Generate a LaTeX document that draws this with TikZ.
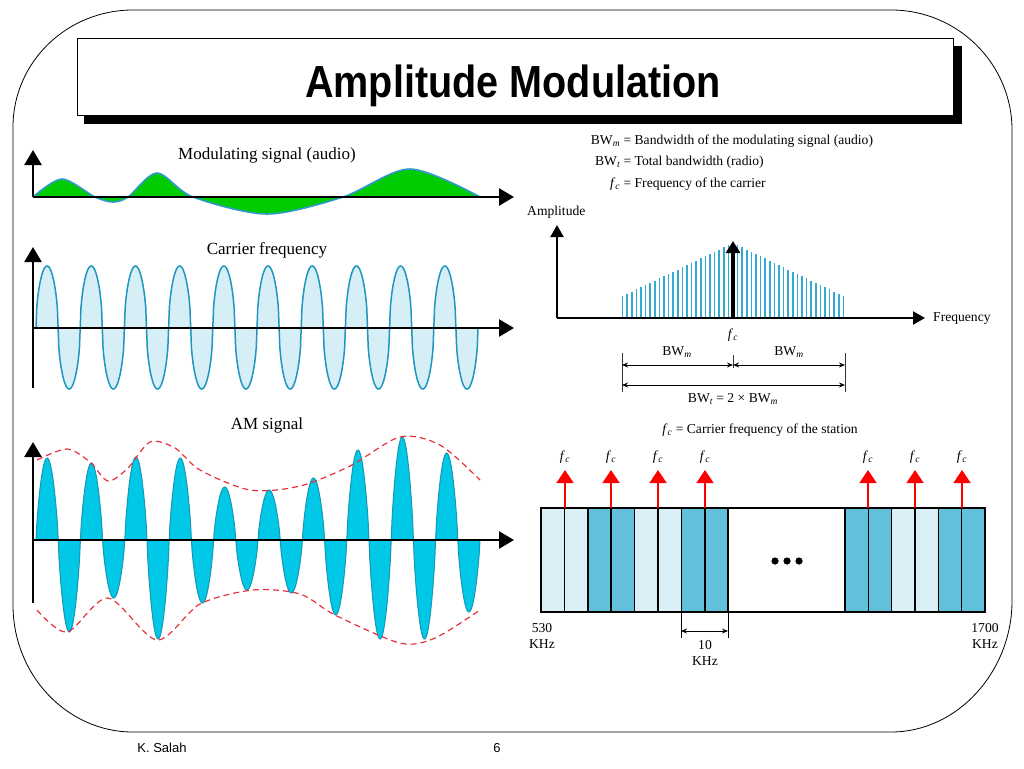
\documentclass[tikz,border=0pt]{standalone}
\usepackage{fontspec}
\setmainfont{Liberation Serif}
\newfontfamily\headfont{Liberation Sans}
\usetikzlibrary{arrows.meta,positioning}

\definecolor{audiogreen}{RGB}{0,204,0}
\definecolor{audioline}{RGB}{51,153,204}
\definecolor{carrierfill}{RGB}{214,238,246}
\definecolor{carrierline}{RGB}{30,150,190}
\definecolor{amfill}{RGB}{0,200,230}
\definecolor{amline}{RGB}{25,150,180}
\definecolor{envred}{RGB}{230,50,60}
\definecolor{specblue}{RGB}{50,170,210}
\definecolor{lightcell}{RGB}{218,239,245}
\definecolor{darkcell}{RGB}{98,192,218}

\newcommand{\lowidx}[1]{\textsubscript{\itshape #1}}
\newcommand{\fc}{\textit{f}\lowidx{c}}

\begin{document}
\begin{tikzpicture}[x=1pt,y=-1pt,
  axis/.style={line width=2.5pt,-{Triangle[length=15pt,width=17pt]}},
  saxis/.style={line width=2pt,-{Triangle[length=12pt,width=13pt]}},
  caption/.style={font=\fontsize{17}{20}\selectfont,inner sep=0pt},
  small/.style={font=\fontsize{13.6}{16.5}\selectfont,inner sep=0pt},
  carrier/.style={fill=carrierfill,draw=carrierline,line width=1.5pt},
  amlobe/.style={fill=amfill,draw=amline,line width=1pt},
  envelope/.style={envred,line width=1.2pt,dash pattern=on 6pt off 4pt},
  specline/.style={specblue,line width=1.5pt},
  dim/.style={line width=0.9pt,{Stealth[length=6pt,width=5pt]}-{Stealth[length=6pt,width=5pt]}},
  cell/.style={draw=black,line width=1.5pt},
  stationup/.style={red,line width=1.5pt,-{Triangle[length=13pt,width=17pt]}}]
\useasboundingbox (0,0) rectangle (1024,768);

% frame and title
\draw[line width=0.8pt] (13,127) .. controls (13,62) and (67,10) .. (133,10) -- (891,10)
  .. controls (958,10) and (1012,64) .. (1012,130) -- (1012,601)
  .. controls (1012,671) and (958,732) .. (891,732) -- (133,732)
  .. controls (67,732) and (13,675) .. (13,605) -- cycle;
\fill (84,46) rectangle (962,124);
\draw[fill=white,line width=0.6pt] (77,38) rectangle (953,115);
\node[font=\headfont\bfseries\fontsize{45}{50}\selectfont,anchor=base,inner sep=0pt] (title) at (513,97) {\scalebox{0.88}[1]{Amplitude Modulation}};
\node[font=\headfont\fontsize{13}{15}\selectfont] (author) at (162,748) {K. Salah};
\node[font=\headfont\fontsize{13}{15}\selectfont] (page) at (497,748) {6};

% modulating signal
\coordinate (m0) at (33,197);
\coordinate (mx) at (514,197);
\coordinate (my) at (33,150);
\fill[audiogreen] plot[smooth] coordinates {(33,197) (62,179) (95,197) (113,202) (128,197) (157,173) (193,197) (267,214) (343,197) (410,169) (480,197)} -- cycle;
\draw[audioline,line width=1.6pt] plot[smooth] coordinates {(33,197) (62,179) (95,197) (113,202) (128,197) (157,173) (193,197) (267,214) (343,197) (410,169) (480,197)};
\draw[axis] (m0) -- (mx);
\draw[axis] (m0) -- (my);
\node[caption] (modlabel) at (267,155) {Modulating signal (audio)};

% carrier
\foreach \k in {0,...,9} {
  \pgfmathsetmacro\cx{36+44.2*\k}
  \filldraw[carrier] plot[domain=0:180,samples=31] ({\cx+\x/180*22.1},{328-62*sqrt(abs(sin(\x)))});
  \filldraw[carrier] plot[domain=0:180,samples=31] ({\cx+22.1+\x/180*22.1},{328+61*sqrt(abs(sin(\x)))});
}
\coordinate (c0) at (33,328);
\coordinate (cb) at (33,388);
\coordinate (cx) at (514,328);
\coordinate (cy) at (33,247);
\draw[axis] (c0) -- (cx);
\draw[axis] (cb) -- (cy);
\node[caption] (carlabel) at (267,250) {Carrier frequency};

% AM signal
\foreach \k/\hu/\hd in {0/82/92,1/77/58,2/83/99,3/82/63,4/53/50,5/50/53,6/62/75,7/90/99,8/103/99,9/87/72} {
  \pgfmathsetmacro\cx{36+44.4*\k}
  \filldraw[amlobe] plot[domain=0:180,samples=31] ({\cx+\x/180*22.2},{540-\hu*abs(sin(\x))^0.75});
  \filldraw[amlobe] plot[domain=0:180,samples=31] ({\cx+22.2+\x/180*22.2},{540+\hd*abs(sin(\x))^0.75});
}
\draw[envelope] plot[smooth] coordinates {(37,460) (67,449) (90,462) (108,481) (128,468) (150,442) (175,448) (200,470) (250,490) (300,486) (350,466) (400,437) (440,445) (480,480)};
\draw[envelope] plot[smooth] coordinates {(37,610) (67,632) (108,598) (157,640) (200,604) (253,590) (300,594) (335,615) (400,643) (435,638) (480,610)};
\coordinate (a0) at (33,540);
\coordinate (ab) at (33,603);
\coordinate (ax) at (514,540);
\coordinate (ay) at (33,442);
\draw[axis] (a0) -- (ax);
\draw[axis] (ab) -- (ay);
\node[caption] (amlabel) at (267,425) {AM signal};

% definitions
\node[small,anchor=base west] (defm) at (584,144) {\makebox[36pt][r]{BW\lowidx{m}} = Bandwidth of the modulating signal (audio)};
\node[small,anchor=base west] (deft) at (584,165) {\makebox[36pt][r]{BW\lowidx{t}} = Total bandwidth (radio)};
\node[small,anchor=base west] (deff) at (584,187) {\makebox[36pt][r]{\fc} = Frequency of the carrier};

% spectrum
\node[small,anchor=west] (amp) at (527,212) {Amplitude};
\coordinate (s0) at (557,318);
\coordinate (sx) at (925,318);
\coordinate (sy) at (557,225);
\foreach \i in {1,...,24} {
  \pgfmathsetmacro\topy{243+\i*53/24}
  \draw[specline] (733-\i*4.6,318) -- (733-\i*4.6,\topy);
  \draw[specline] (733+\i*4.6,318) -- (733+\i*4.6,\topy);
}
\draw[saxis] (s0) -- (sx);
\draw[saxis] (s0) -- (sy);
\coordinate (fcb) at (733,318);
\coordinate (fct) at (733,241);
\draw[line width=4pt,-{Triangle[length=12pt,width=14pt]}] (fcb) -- (fct);
\node[small,anchor=west] (freq) at (933,319) {Frequency};
\node[small] (fclabel) at (733,335) {\fc};

% bandwidth dimensions
\coordinate (bl1) at (622,353); \coordinate (bl2) at (622,392);
\coordinate (br1) at (845,353); \coordinate (br2) at (845,392);
\coordinate (bc1) at (733,355); \coordinate (bc2) at (733,368);
\draw[line width=0.9pt,black!80] (bl1) -- (bl2) (br1) -- (br2) (bc1) -- (bc2);
\coordinate (dl) at (622,365); \coordinate (dc) at (733,365); \coordinate (dr) at (845,365);
\coordinate (el) at (622,385); \coordinate (er) at (845,385);
\draw[dim] (dl) -- (dc);
\draw[dim] (dc) -- (dr);
\draw[dim] (el) -- (er);
\node[small] (bwml) at (677,352) {BW\lowidx{m}};
\node[small] (bwmr) at (789,352) {BW\lowidx{m}};
\node[small] (bwt) at (733,399) {BW\lowidx{t} = 2 × BW\lowidx{m}};

% station band
\node[small] (stlabel) at (760,430) {\fc{} = Carrier frequency of the station};
\foreach \i/\c in {0/lightcell,1/lightcell,2/darkcell,3/darkcell,4/lightcell,5/lightcell,6/darkcell,7/darkcell}
  \filldraw[cell,fill=\c] (541+\i*23.4,508) rectangle ++(23.4,104);
\draw[cell,fill=white] (728,508) rectangle (845,612);
\foreach \i/\c in {0/darkcell,1/darkcell,2/lightcell,3/lightcell,4/darkcell,5/darkcell}
  \filldraw[cell,fill=\c] (845+\i*23.33,508) rectangle ++(23.33,104);
\foreach \d in {775,787,799}
  \fill (\d,561) circle (3.6);
\foreach \s in {565,611,658,705,868,915,962} {
  \coordinate (st\s) at (\s,508);
  \coordinate (sh\s) at (\s,470);
  \draw[stationup] (st\s) -- (sh\s);
  \node[small] (fc\s) at (\s,457) {\fc};
}
\coordinate (k1) at (681,612); \coordinate (k2) at (681,638);
\coordinate (k3) at (728,612); \coordinate (k4) at (728,638);
\draw[line width=0.9pt] (k1) -- (k2) (k3) -- (k4);
\coordinate (kl) at (681,631); \coordinate (kr) at (728,631);
\draw[dim] (kl) -- (kr);
\node[small,align=center] (lo) at (542,636) {530\\KHz};
\node[small,align=center] (hi) at (985,636) {1700\\KHz};
\node[small,align=center] (step10) at (705,653) {10\\KHz};
\end{tikzpicture}
\end{document}
